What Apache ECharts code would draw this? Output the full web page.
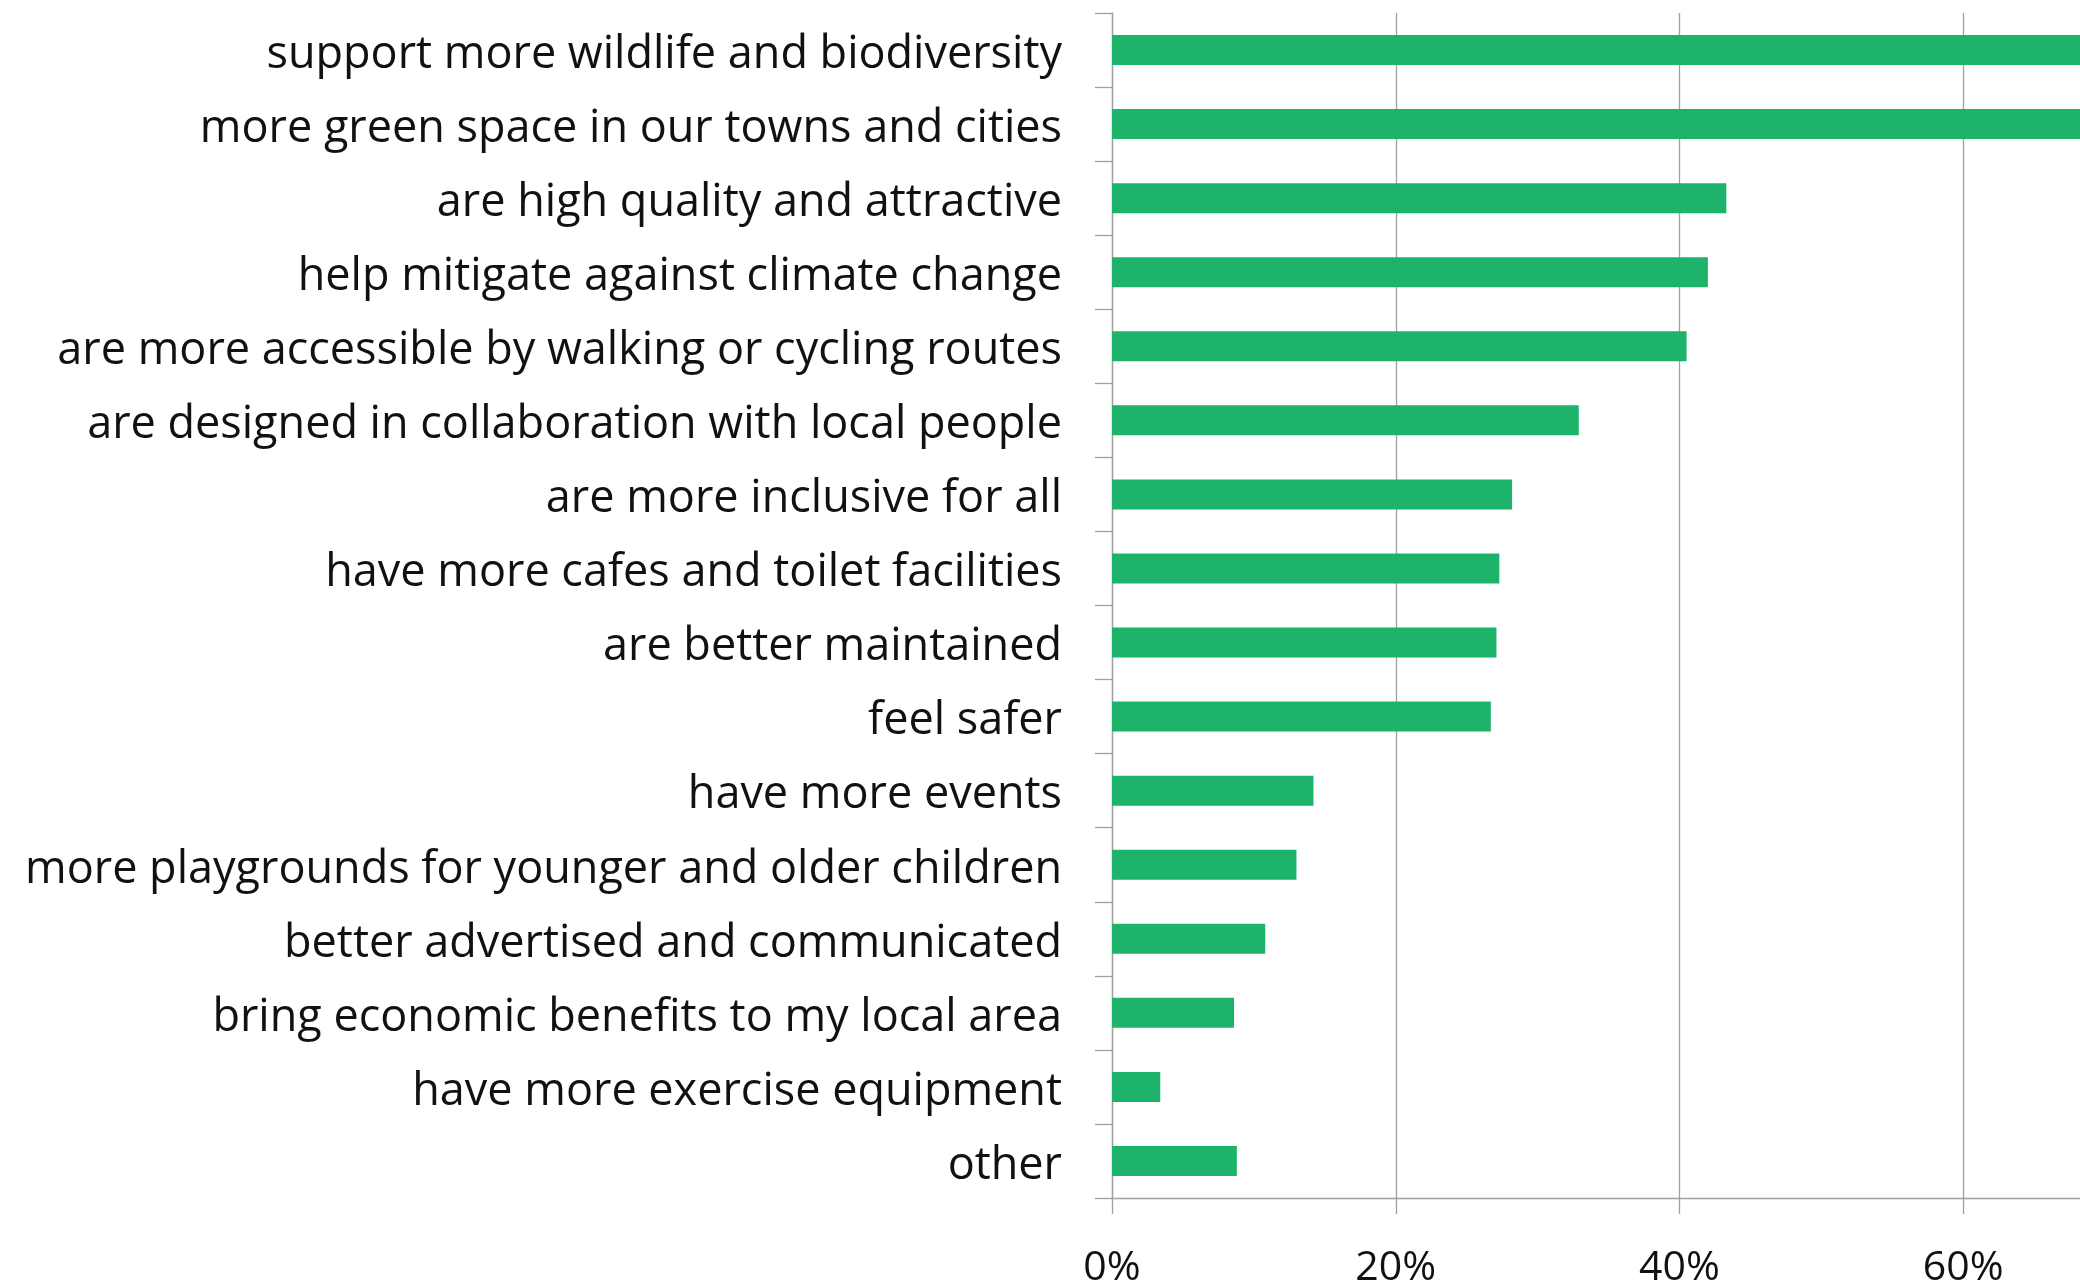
<!DOCTYPE html>
<html>
<head>
<meta charset="utf-8">
<title>What would make green spaces better</title>
<script src="https://cdn.jsdelivr.net/npm/echarts@6/dist/echarts.min.js"></script>
<style>
  html, body { margin: 0; padding: 0; background: #ffffff; }
  #chart { width: 2080px; height: 1285px; }
</style>
</head>
<body>
<div id="chart"></div>
<script>
// Survey answers, listed top to bottom
const categories = [
  'support more wildlife and biodiversity',
  'more green space in our towns and cities',
  'are high quality and attractive',
  'help mitigate against climate change',
  'are more accessible by walking or cycling routes',
  'are designed in collaboration with local people',
  'are more inclusive for all',
  'have more cafes and toilet facilities',
  'are better maintained',
  'feel safer',
  'have more events',
  'more playgrounds for younger and older children',
  'better advertised and communicated',
  'bring economic benefits to my local area',
  'have more exercise equipment',
  'other'
];

// Share of respondents (%)
const shares = [74, 71, 43.3, 42.0, 40.5, 32.9, 28.2, 27.3, 27.1, 26.7, 14.2, 13.0, 10.8, 8.6, 3.4, 8.8];

// Value axis ticks (%)
const tickValues = [0, 20, 40, 60];

const GREY = '#a0a0a0';
const FONT = '"Open Sans", Lato, sans-serif';

const chart = echarts.init(document.getElementById('chart'), null, { renderer: 'canvas' });

chart.setOption({
  backgroundColor: '#ffffff',
  animation: false,
  grid: {
    left: 1112,
    width: 1135,          // value axis runs past the right edge of the page
    top: 13,
    bottom: 87,
    containLabel: false,
    outerBoundsMode: 'none'
  },
  xAxis: {
    type: 'value',
    min: 0,
    max: 80,
    interval: 20,
    axisLine: { show: true, lineStyle: { color: GREY, width: 1.3 } },
    axisTick: { show: true, length: 16, lineStyle: { color: GREY, width: 1.3 } },
    splitLine: { show: true, lineStyle: { color: GREY, width: 1.3 } },
    axisLabel: {
      margin: 50,
      color: '#111111',
      fontFamily: FONT,
      fontSize: 41,
      formatter: v => tickValues.includes(v) ? v + '%' : ''
    }
  },
  yAxis: {
    type: 'category',
    data: categories,
    inverse: true,
    axisLine: { show: true, lineStyle: { color: GREY, width: 1.3 } },
    axisTick: { show: true, length: 17, lineStyle: { color: GREY, width: 1.3 } },
    axisLabel: {
      margin: 50,
      color: '#111111',
      fontFamily: FONT,
      fontSize: 45,
      // a short line box hung from the band centre sits the text slightly low
      verticalAlign: 'top',
      lineHeight: 10
    }
  },
  series: [{
    type: 'bar',
    data: shares,
    barWidth: 30,
    clip: true,
    itemStyle: { color: '#1db36b' }
  }]
});
</script>
</body>
</html>
